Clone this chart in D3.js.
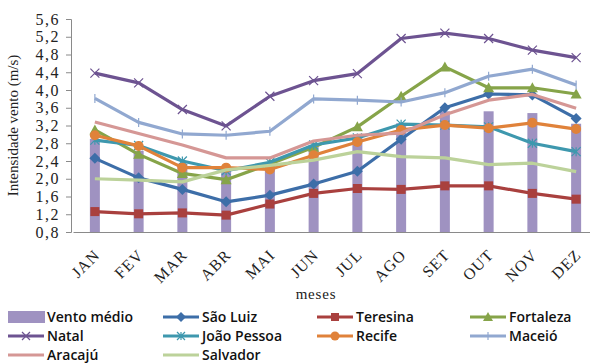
<!DOCTYPE html>
<html>
<head>
<meta charset="utf-8">
<script src="https://cdn.jsdelivr.net/npm/d3@7"></script>
<style>
  body { margin: 0; background: #fff; }
  svg { display: block; }
</style>
</head>
<body>
<svg id="chart" width="590" height="363"></svg>
<script>
const meses = ["JAN", "FEV", "MAR", "ABR", "MAI", "JUN", "JUL", "AGO", "SET", "OUT", "NOV", "DEZ"];
const yTicks = [0.8, 1.2, 1.6, 2.0, 2.4, 2.8, 3.2, 3.6, 4.0, 4.4, 4.8, 5.2, 5.6];

// bars
const ventoMedio = [2.90, 2.63, 2.34, 2.21, 2.35, 2.76, 2.96, 3.25, 3.52, 3.52, 3.48, 3.24];

// lines (one array per city)
const saoLuiz     = [2.46, 2.02, 1.76, 1.48, 1.63, 1.88, 2.17, 2.89, 3.60, 3.91, 3.89, 3.36];
const teresina    = [1.26, 1.21, 1.23, 1.18, 1.43, 1.67, 1.78, 1.76, 1.84, 1.84, 1.67, 1.54];
const fortaleza   = [3.10, 2.55, 2.12, 1.98, 2.33, 2.71, 3.17, 3.86, 4.52, 4.05, 4.05, 3.91];
const natal       = [4.38, 4.16, 3.56, 3.19, 3.86, 4.21, 4.37, 5.16, 5.28, 5.16, 4.90, 4.73];
const joaoPessoa  = [2.87, 2.75, 2.40, 2.18, 2.37, 2.76, 2.92, 3.23, 3.21, 3.17, 2.80, 2.61];
const recife      = [2.98, 2.74, 2.25, 2.25, 2.21, 2.53, 2.83, 3.10, 3.21, 3.14, 3.26, 3.12];
const maceio      = [3.81, 3.27, 3.01, 2.98, 3.07, 3.80, 3.77, 3.73, 3.94, 4.31, 4.47, 4.11];
const aracaju     = [3.28, 3.02, 2.76, 2.47, 2.47, 2.85, 2.98, 3.03, 3.44, 3.77, 3.90, 3.59];
const salvador    = [2.00, 1.97, 1.93, 2.20, 2.30, 2.42, 2.61, 2.50, 2.47, 2.32, 2.35, 2.16];

const series = [
  { name: "São Luiz",    values: saoLuiz,    color: "#3d6ea8", marker: "diamond" },
  { name: "Teresina",    values: teresina,   color: "#a9403e", marker: "square" },
  { name: "Fortaleza",   values: fortaleza,  color: "#86a449", marker: "triangle" },
  { name: "Natal",       values: natal,      color: "#6d5391", marker: "x" },
  { name: "João Pessoa", values: joaoPessoa, color: "#3e98ae", marker: "star" },
  { name: "Recife",      values: recife,     color: "#e0823a", marker: "circle" },
  { name: "Maceió",      values: maceio,     color: "#91a8d0", marker: "plus" },
  { name: "Aracajú",     values: aracaju,    color: "#d59795", marker: "none" },
  { name: "Salvador",    values: salvador,   color: "#bcd29a", marker: "none" }
];
const barColor = "#9f92c1";

const svg = d3.select("#chart");
const margin = { left: 71, top: 19, bottom: 232 };

const x = d3.scaleBand().domain(meses).range([73, 598]).padding(0);
const y = d3.scaleLinear().domain([0.8, 5.6]).range([232, 19]);

// y axis
const yAxis = svg.append("g")
    .attr("transform", `translate(${margin.left},0)`)
    .call(d3.axisLeft(y).tickValues(yTicks).tickSize(5).tickPadding(6)
        .tickFormat(d => d3.format(".1f")(d).replace(".", ",")));
yAxis.select(".domain").attr("stroke", "#8a8a8a");
yAxis.selectAll(".tick line").attr("stroke", "#8a8a8a");
yAxis.selectAll(".tick text")
    .attr("font-family", "Liberation Serif, serif")
    .attr("font-size", 16)
    .attr("letter-spacing", 1.5)
    .attr("fill", "#222");

// bars
svg.append("g").selectAll("rect")
    .data(ventoMedio)
    .join("rect")
    .attr("x", (d, i) => x(meses[i]) + x.bandwidth() / 2 - 5)
    .attr("width", 10)
    .attr("y", d => y(d))
    .attr("height", d => y(0.8) - y(d))
    .attr("fill", barColor);

// x axis
const xAxis = svg.append("g")
    .attr("transform", `translate(0,${margin.bottom})`)
    .call(d3.axisBottom(x).tickSize(0));
xAxis.select(".domain").attr("stroke", "#8a8a8a");
xAxis.selectAll(".tick text")
    .attr("font-family", "Liberation Serif, serif")
    .attr("font-size", 16)
    .attr("letter-spacing", 1)
    .attr("fill", "#222")
    .attr("text-anchor", "end")
    .attr("x", 0)
    .attr("y", 0)
    .attr("dy", 0)
    .attr("transform", "translate(6,24) rotate(-45)");

// lines
const line = d3.line()
    .x((d, i) => x(meses[i]) + x.bandwidth() / 2)
    .y(d => y(d));

function drawMarker(g, type, color, size) {
    const s = size / 2;
    if (type === "diamond") {
        g.append("path").attr("d", `M0,${-s - 1}L${s + 1},0L0,${s + 1}L${-s - 1},0Z`).attr("fill", color);
    } else if (type === "square") {
        g.append("rect").attr("x", -s).attr("y", -s).attr("width", size).attr("height", size).attr("fill", color);
    } else if (type === "triangle") {
        g.append("path").attr("d", `M0,${-s - 1}L${s + 1},${s}L${-s - 1},${s}Z`).attr("fill", color);
    } else if (type === "circle") {
        g.append("circle").attr("r", s + 0.5).attr("fill", color);
    } else if (type === "x") {
        g.append("path").attr("d", `M${-s},${-s}L${s},${s}M${s},${-s}L${-s},${s}`)
            .attr("stroke", color).attr("stroke-width", 1.2);
    } else if (type === "star") {
        g.append("path").attr("d", `M${-s},${-s}L${s},${s}M${s},${-s}L${-s},${s}M0,${-s}L0,${s}`)
            .attr("stroke", color).attr("stroke-width", 1.2);
    } else if (type === "plus") {
        g.append("path").attr("d", `M0,${-s}L0,${s}`)
            .attr("stroke", color).attr("stroke-width", 1.2);
    }
}

series.forEach(s => {
    const g = svg.append("g");
    g.append("path")
        .datum(s.values)
        .attr("d", line)
        .attr("fill", "none")
        .attr("stroke", s.color)
        .attr("stroke-width", 3.2)
        .attr("stroke-linejoin", "round");
    s.values.forEach((v, i) => {
        const m = g.append("g")
            .attr("transform", `translate(${x(meses[i]) + x.bandwidth() / 2},${y(v)})`);
        drawMarker(m, s.marker, s.color, 9);
    });
});

// axis titles
svg.append("text")
    .attr("transform", `translate(18,${(19 + 232) / 2}) rotate(-90)`)
    .attr("text-anchor", "middle")
    .attr("font-family", "Liberation Serif, serif")
    .attr("font-size", 15)
    .attr("fill", "#222")
    .text("Intensidade vento (m/s)");

svg.append("text")
    .attr("x", 316)
    .attr("y", 299)
    .attr("text-anchor", "middle")
    .attr("font-family", "Liberation Serif, serif")
    .attr("font-size", 15)
    .attr("letter-spacing", 0.8)
    .attr("fill", "#222")
    .text("meses");

// legend
const legendItems = [{ name: "Vento médio", color: barColor, marker: "bar" }].concat(series);
const colX = [8, 163, 317, 470];
const rowY = [317, 336, 355];
legendItems.forEach((d, i) => {
    const lx = colX[i % 4], ly = rowY[Math.floor(i / 4)];
    const g = svg.append("g").attr("transform", `translate(${lx},${ly})`);
    if (d.marker === "bar") {
        g.append("rect").attr("x", 0).attr("y", -6).attr("width", 37).attr("height", 12).attr("fill", d.color);
    } else {
        g.append("line").attr("x1", 0).attr("x2", 36).attr("y1", 0).attr("y2", 0)
            .attr("stroke", d.color).attr("stroke-width", 3);
        const m = g.append("g").attr("transform", "translate(18,0)");
        drawMarker(m, d.marker, d.color, 8);
    }
    g.append("text")
        .attr("x", 39)
        .attr("dy", "0.35em")
        .attr("font-family", "Open Sans, sans-serif")
        .attr("font-size", 14)
        .attr("font-weight", 600)
        .attr("fill", "#111")
        .text(d.name);
});
</script>
</body>
</html>
